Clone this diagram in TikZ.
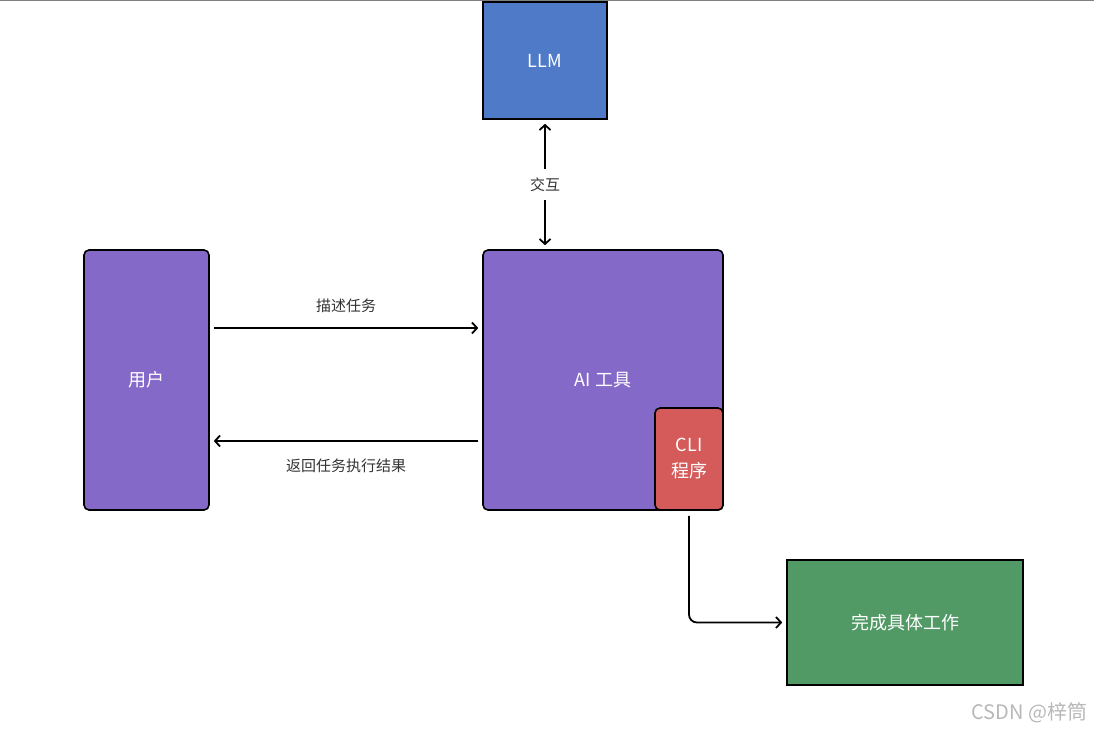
\documentclass[tikz,border=0pt]{standalone}
\usepackage{fontspec}
\setmainfont{Noto Sans CJK SC}
\usetikzlibrary{arrows.meta}

\definecolor{llmblue}{HTML}{4F7AC7}
\definecolor{toolpurple}{HTML}{8469C8}
\definecolor{clired}{HTML}{D45B5A}
\definecolor{workgreen}{HTML}{519965}

\tikzset{
  box/.style={draw=black, line width=1.6pt, text=white, font=\fontsize{18}{26}\selectfont, align=center, inner sep=0pt},
  roundbox/.style={box, rounded corners=5pt},
  link/.style={line width=1.8pt, -{Straight Barb[length=5pt,width=11pt]}},
  lbl/.style={font=\fontsize{15}{17}\selectfont, text=black!80}
}

\begin{document}
\begin{tikzpicture}[x=1pt,y=-1pt]
  \useasboundingbox (0,0) rectangle (1094,730);
  \draw[gray, line width=0.8pt] (0,0.5) -- (1094,0.5);

  \node[box, fill=llmblue, minimum width=124pt, minimum height=117pt] (llm) at (545,60.5) {LLM};
  \node[roundbox, fill=toolpurple, minimum width=125pt, minimum height=260pt] (user) at (146.5,380) {用户};
  \node[roundbox, fill=toolpurple, minimum width=240pt, minimum height=260pt] (tool) at (603,380) {AI 工具};
  \node[roundbox, fill=clired, minimum width=68pt, minimum height=102pt] (cli) at (689,459) {CLI\\程序};
  \node[box, fill=workgreen, minimum width=236pt, minimum height=125pt] (work) at (905,622.5) {完成具体工作};

  \draw[link, {Straight Barb[length=5pt,width=11pt]}-{Straight Barb[length=5pt,width=11pt]}, shorten <=4pt, shorten >=4pt]
    (llm.south) -- (llm.south |- tool.north) node[midway, fill=white, lbl, inner ysep=9pt] {交互};

  \draw[link, shorten <=4pt, shorten >=4pt] ([yshift=52pt]user.east) -- ([yshift=52pt]tool.west)
    node[midway, above=11pt, lbl] {描述任务};
  \draw[link, shorten <=4pt, shorten >=4pt] ([yshift=-61pt]tool.west) -- ([yshift=-61pt]user.east)
    node[midway, below=14pt, lbl] {返回任务执行结果};

  \draw[link, rounded corners=8pt, shorten <=5pt, shorten >=4pt] (cli.south) |- (work.west);

  \node[font=\fontsize{20}{22}\selectfont, text=black!28, anchor=east] (mark) at (1091,713) {CSDN @梓筒};
\end{tikzpicture}
\end{document}
